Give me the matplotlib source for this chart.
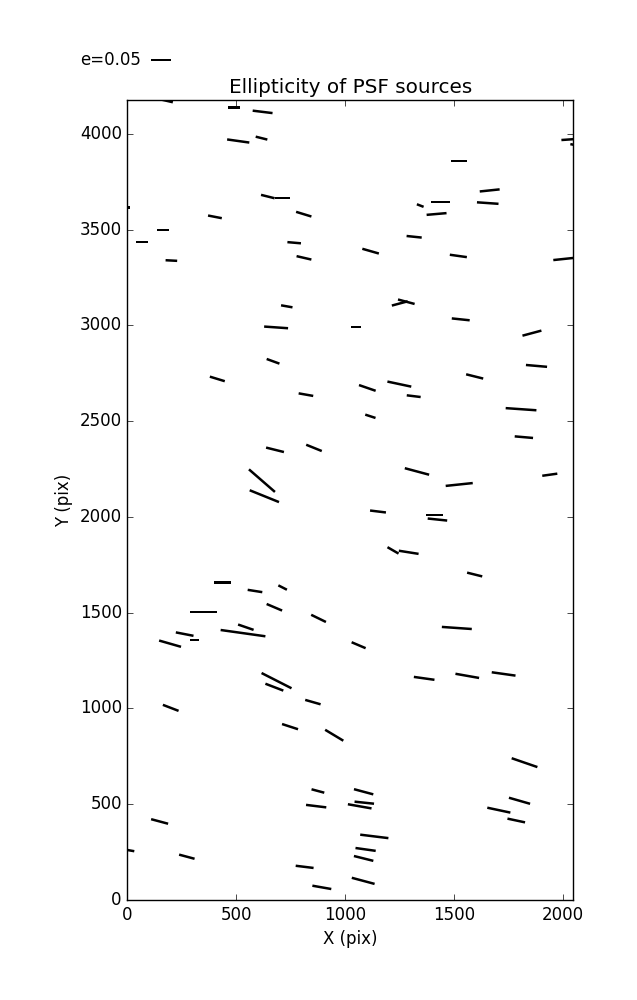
import numpy as np
import matplotlib
matplotlib.use("Agg")
import matplotlib.pyplot as plt

# source positions on the chip (pix), ellipticity and position angle (deg)
x_src = [164, 490, 621, 509, 616, 645, 711, 810, 402, 164, 67, 766, 811, 202, 0,
         2030, 2057, 1522, 1664, 1345, 1438, 1655, 1420, 1317, 1117, 1520, 2011,
         732, 683, 669, 413, 820, 678, 857, 618, 629,
         1251, 1281, 1531, 1050, 1858, 1879, 1595, 1102, 1249, 1315, 1808, 1116, 1821, 1330, 1524, 1940,
         437, 586, 713, 675, 349, 878, 544, 531, 263, 309, 196, 685, 675, 852,
         1151, 1410, 1424, 1220, 1292, 1595, 1513, 1062, 1363, 1561, 1728,
         199, 747, 950, 875, 867, 148, 0, 273, 814, 893,
         1824, 1085, 1088, 1067, 1801, 1706, 1786, 1134, 1094, 1085, 1083]
y_src = [4176, 4136, 4114, 3962, 3977, 3672, 3664, 3580, 3566, 3498, 3434, 3431, 3352, 3338, 3615,
         3970, 3941, 3858, 3704, 3625, 3643, 3638, 3581, 3462, 3387, 3362, 3347,
         3099, 2989, 2812, 2720, 2638, 2350, 2360, 2189, 2108,
         3114, 3123, 3031, 2992, 2959, 2788, 2733, 2673, 2693, 2630, 2562, 2525, 2416, 2237, 2169, 2220,
         1658, 1613, 1631, 1528, 1504, 1470, 1424, 1393, 1388, 1358, 1338, 1145, 1111, 1033,
         2028, 2009, 1986, 1825, 1815, 1699, 1420, 1330, 1157, 1170, 1180,
         1003, 905, 860, 569, 490, 410, 261, 226, 173, 66,
         717, 565, 508, 489, 518, 469, 415, 332, 264, 217, 100]
ell = [0.050, 0.030, 0.050, 0.056, 0.030, 0.035, 0.038, 0.040, 0.035, 0.031, 0.032, 0.034, 0.038, 0.029, 0.015,
       0.040, 0.025, 0.041, 0.050, 0.018, 0.047, 0.054, 0.050, 0.038, 0.043, 0.043, 0.060,
       0.029, 0.060, 0.034, 0.039, 0.037, 0.046, 0.042, 0.086, 0.079,
       0.041, 0.043, 0.045, 0.027, 0.049, 0.053, 0.044, 0.044, 0.061, 0.035, 0.077, 0.027, 0.046, 0.063, 0.068, 0.038,
       0.041, 0.037, 0.024, 0.042, 0.068, 0.041, 0.041, 0.113, 0.045, 0.024, 0.057, 0.084, 0.048, 0.040,
       0.040, 0.044, 0.049, 0.032, 0.050, 0.039, 0.075, 0.038, 0.052, 0.060, 0.060,
       0.042, 0.042, 0.053, 0.033, 0.051, 0.044, 0.035, 0.040, 0.045, 0.048,
       0.068, 0.050, 0.049, 0.060, 0.055, 0.059, 0.045, 0.071, 0.051, 0.050, 0.059]
pa_deg = [-13, 0, -7, -8, -14, -14, 0, -17, -11, 0, 0, -5, -13, -3, 0,
          4, -10, 0, 6, -21, 0, -4, 5, -6, -16, -8, 6,
          -10, -4, -20, -17, -10, -14, -22, -41, -22,
          15, -15, -6, 0, 15, -5, -14, -19, -12, -7, -4, -18, -5, -15, 6, 8,
          0, -9, -27, -23, 0, -26, -19, -8, -11, 0, -16, -27, -21, -16,
          -7, 0, -6, -30, -9, -14, -4, -23, -8, -10, -8,
          -21, -18, -31, -15, -7, -15, -10, -15, -7, -10,
          -19, -15, -6, -10, -16, -12, -12, -7, -8, -14, -15]

plt.style.use("classic")
plt.rcParams["figure.facecolor"] = "white"
plt.rcParams["savefig.facecolor"] = "white"

fig = plt.figure(figsize=(6.37, 10.0), dpi=100)
fig.subplots_adjust(left=0.2, right=0.9, bottom=0.1, top=0.9)
ax = fig.add_subplot(111)

e = np.array(ell)
pa = np.radians(pa_deg)
u = e * np.cos(pa)
v = e * np.sin(pa)

q = ax.quiver(x_src, y_src, u, v, pivot="middle", color="k",
              headwidth=0, headlength=0, headaxislength=0,
              units="inches", width=0.025, scale_units="inches", scale=0.25)
# key arrow starts at X when the label sits on the west side
ax.quiverkey(q, 0.237, 0.94, 0.05, "e=0.05", labelpos="W", coordinates="figure")

ax.set_xlim(0, 2048)
ax.set_ylim(0, 4176)
ax.set_xticks(np.arange(0, 2001, 500))
ax.set_yticks(np.arange(0, 4001, 500))
ax.set_xlabel("X (pix)")
ax.set_ylabel("Y (pix)")
ax.set_title("Ellipticity of PSF sources")

fig.savefig("out.png", dpi=100)
